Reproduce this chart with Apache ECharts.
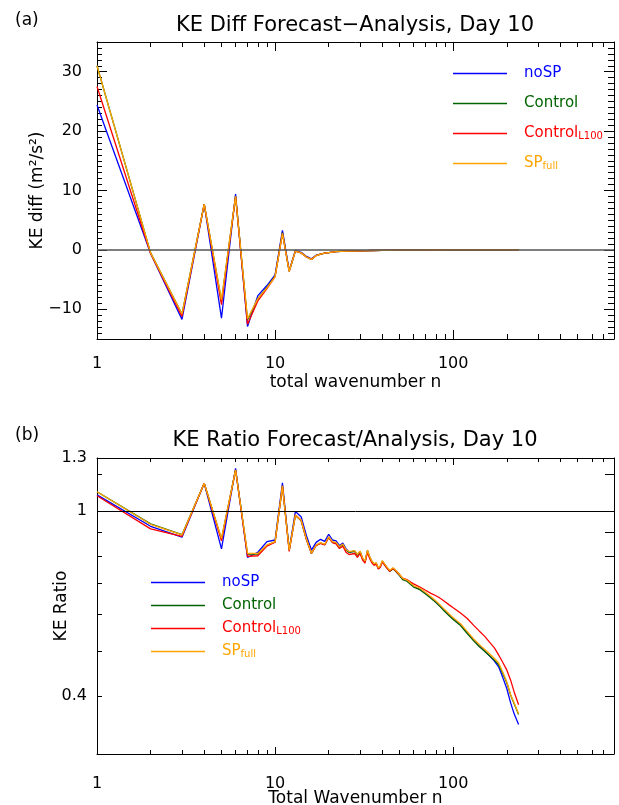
<!DOCTYPE html>
<html>
<head>
<meta charset="utf-8">
<script src="https://cdn.jsdelivr.net/npm/echarts@6.0.0/dist/echarts.min.js"></script>
<style>
  html, body { margin: 0; padding: 0; background: #fff; }
  #chart { width: 619px; height: 805px; }
</style>
</head>
<body>
<div id="chart"></div>
<script>
// ---- data ----
var seriesNames = ['noSP', 'Control', 'ControlL100', 'SPfull'];
var seriesColors = ['#0000ff', '#006400', '#ff0000', '#ffa500'];

// (a) KE diff, m2/s2
var nTop = [1, 2, 3, 4, 5, 6, 7, 8, 9, 10, 11, 12, 13, 14, 15, 16, 17, 18, 19, 20,
  22, 25, 30, 35, 40, 50, 60, 80, 100, 130, 160, 200, 233];
var diffNoSP = [24.4, -0.6, -11.7, 7.7, -11.5, 9.4, -12.9, -7.7, -6.0, -4.2, 3.3, -3.5, -0.1, -0.4, -1.1, -1.5, -0.9, -0.7, -0.55, -0.45,
  -0.3, -0.22, -0.15, -0.1, -0.08, -0.05, -0.03, -0.02, -0.01, -0.01, 0, 0, 0];
var diffControl = [31.0, -0.5, -10.8, 7.7, -8.6, 9.0, -11.8, -8.2, -6.3, -4.4, 2.9, -3.6, -0.2, -0.5, -1.2, -1.6, -0.95, -0.7, -0.55, -0.45,
  -0.3, -0.22, -0.15, -0.1, -0.08, -0.05, -0.03, -0.02, -0.01, -0.01, 0, 0, 0];
var diffL100 = [27.5, -0.6, -11.2, 7.7, -9.2, 9.0, -12.5, -8.6, -6.5, -4.5, 2.8, -3.6, -0.2, -0.5, -1.2, -1.6, -0.95, -0.7, -0.55, -0.45,
  -0.3, -0.22, -0.15, -0.1, -0.08, -0.05, -0.03, -0.02, -0.01, -0.01, 0, 0, 0];
var diffSPfull = [31.0, -0.5, -10.8, 7.7, -8.4, 9.0, -11.6, -8.2, -6.4, -4.5, 2.8, -3.6, -0.2, -0.5, -1.2, -1.6, -0.95, -0.7, -0.55, -0.45,
  -0.3, -0.22, -0.15, -0.1, -0.08, -0.05, -0.03, -0.02, -0.01, -0.01, 0, 0, 0];

// (b) KE ratio
var nBot = [1, 2, 3, 4, 5, 6, 7, 8, 9, 10, 11, 12, 13, 14, 15, 16, 17, 18, 19, 20,
  21, 22, 23, 24, 25, 26, 27, 28, 29, 30, 31, 32, 33, 34, 35, 36, 37, 38, 39, 40,
  42, 44, 46, 48, 50, 52, 55, 58, 60,
  65, 70, 75, 80, 85, 90, 95, 100,
  110, 120, 130, 140, 150, 160, 170, 180, 190, 200, 210, 220, 233];
var ratioNoSP = [1.083, 0.927, 0.878, 1.147, 0.829, 1.235, 0.794, 0.815, 0.859, 0.866,
  1.15, 0.826, 0.997, 0.972, 0.885, 0.824, 0.856, 0.869, 0.86, 0.891,
  0.866, 0.862, 0.842, 0.853, 0.83, 0.816, 0.818, 0.82, 0.804, 0.818,
  0.791, 0.778, 0.822, 0.795, 0.778, 0.768, 0.772, 0.753, 0.76, 0.78,
  0.76, 0.743, 0.753, 0.741, 0.728, 0.714, 0.708, 0.696, 0.688,
  0.679, 0.665, 0.651, 0.637, 0.623, 0.609, 0.597, 0.586,
  0.569, 0.547, 0.528, 0.513, 0.5, 0.488, 0.476, 0.462, 0.438, 0.415, 0.387, 0.366, 0.347];
var ratioControl = [1.10, 0.938, 0.889, 1.147, 0.87, 1.225, 0.808, 0.808, 0.843, 0.858,
  1.13, 0.824, 0.978, 0.954, 0.868, 0.81, 0.843, 0.853, 0.846, 0.878,
  0.856, 0.853, 0.835, 0.846, 0.823, 0.815, 0.817, 0.819, 0.803, 0.817,
  0.79, 0.777, 0.821, 0.794, 0.777, 0.767, 0.771, 0.752, 0.759, 0.779,
  0.758, 0.741, 0.751, 0.739, 0.726, 0.712, 0.706, 0.694, 0.686,
  0.677, 0.663, 0.649, 0.635, 0.621, 0.607, 0.595, 0.584,
  0.567, 0.545, 0.526, 0.511, 0.499, 0.488, 0.478, 0.467, 0.447, 0.427, 0.402, 0.385, 0.365];
var ratioL100 = [1.078, 0.915, 0.882, 1.147, 0.862, 1.225, 0.799, 0.801, 0.84, 0.857,
  1.132, 0.818, 0.98, 0.955, 0.868, 0.81, 0.843, 0.852, 0.845, 0.877,
  0.855, 0.85, 0.83, 0.84, 0.815, 0.806, 0.808, 0.81, 0.795, 0.81,
  0.784, 0.772, 0.815, 0.789, 0.773, 0.764, 0.768, 0.75, 0.757, 0.777,
  0.757, 0.742, 0.752, 0.741, 0.729, 0.717, 0.712, 0.702, 0.697,
  0.686, 0.675, 0.665, 0.657, 0.648, 0.638, 0.628, 0.619,
  0.603, 0.587, 0.568, 0.552, 0.538, 0.522, 0.508, 0.49, 0.472, 0.455, 0.433, 0.408, 0.383];
var ratioSPfull = [1.10, 0.936, 0.888, 1.147, 0.873, 1.225, 0.811, 0.81, 0.845, 0.859,
  1.132, 0.824, 0.98, 0.956, 0.87, 0.811, 0.845, 0.855, 0.848, 0.88,
  0.859, 0.856, 0.838, 0.849, 0.826, 0.818, 0.82, 0.822, 0.806, 0.82,
  0.793, 0.78, 0.824, 0.797, 0.78, 0.77, 0.774, 0.755, 0.762, 0.782,
  0.762, 0.745, 0.755, 0.743, 0.73, 0.716, 0.71, 0.698, 0.69,
  0.682, 0.668, 0.654, 0.64, 0.626, 0.612, 0.6, 0.589,
  0.572, 0.55, 0.531, 0.516, 0.504, 0.493, 0.482, 0.471, 0.45, 0.429, 0.403, 0.386, 0.366];

// ticks / labels
var xLabels = [1, 10, 100];
var xMinor = [2, 3, 4, 5, 6, 7, 8, 9, 20, 30, 40, 50, 60, 70, 80, 90, 200, 300, 400, 500, 600, 700];
var yTopLabels = [-10, 0, 10, 20, 30];
var yBotLabels = [0.4, 1, 1.3];
var yBotMinor = [0.5, 0.6, 0.7, 0.8, 0.9, 1.2];

var FONT = 'DejaVu Sans';
var yTopMinor = [];
for (var v = -15; v <= 35; v++) { if (v % 10 !== 0) yTopMinor.push(v); }

function pairs(xs, ys) {
  return xs.map(function (x, i) { return [x, ys[i]]; });
}

function axis(type, grid, pos, min, max, ticks, len, extra) {
  var a = {
    type: type, gridIndex: grid, position: pos, min: min, max: max,
    axisLine: { show: true, onZero: false, lineStyle: { color: '#000', width: 1 } },
    axisTick: { show: true, inside: true, length: len, customValues: ticks, lineStyle: { color: '#000', width: 1 } },
    axisLabel: { show: false },
    splitLine: { show: false },
    minorTick: { show: false },
    silent: true
  };
  if (type === 'log') a.logBase = 10;
  return Object.assign(a, extra || {});
}

function labelStyle(values, margin) {
  return {
    show: true, customValues: values, margin: margin,
    fontFamily: FONT, fontSize: 16, color: '#000',
    formatter: function (v) { return String(v).replace('-', '\u2212'); }
  };
}

var nameStyle = { fontFamily: FONT, fontSize: 17, color: '#000' };

var grids = [
  { left: 97, top: 42, width: 517, height: 297, outerBoundsMode: 'none' },
  { left: 97, top: 458, width: 517, height: 296, outerBoundsMode: 'none' }
];

var xAxes = [
  axis('log', 0, 'bottom', 1, 800, xLabels, 9, {
    axisLabel: labelStyle(xLabels, 17),
    name: 'total wavenumber n', nameLocation: 'middle', nameGap: 35, nameMoveOverlap: false, nameTextStyle: nameStyle
  }),
  axis('log', 0, 'bottom', 1, 800, xMinor, 5, { axisLine: { show: false, onZero: false } }),
  axis('log', 0, 'top', 1, 800, xLabels, 9),
  axis('log', 0, 'top', 1, 800, xMinor, 5, { axisLine: { show: false, onZero: false } }),
  axis('log', 1, 'bottom', 1, 800, xLabels, 7, {
    axisLabel: labelStyle(xLabels, 22),
    name: 'Total Wavenumber n', nameLocation: 'middle', nameGap: 36, nameMoveOverlap: false, nameTextStyle: nameStyle
  }),
  axis('log', 1, 'bottom', 1, 800, xMinor, 4, { axisLine: { show: false, onZero: false } }),
  axis('log', 1, 'top', 1, 800, xLabels, 7),
  axis('log', 1, 'top', 1, 800, xMinor, 4, { axisLine: { show: false, onZero: false } })
];

var yAxes = [
  axis('value', 0, 'left', -15, 35, yTopLabels, 10, {
    axisLabel: labelStyle(yTopLabels, 15),
    name: 'KE diff (m\u00b2/s\u00b2)', nameLocation: 'middle', nameGap: 51, nameMoveOverlap: false, nameTextStyle: nameStyle
  }),
  axis('value', 0, 'left', -15, 35, yTopMinor, 5, { axisLine: { show: false, onZero: false } }),
  axis('value', 0, 'right', -15, 35, yTopLabels, 10),
  axis('value', 0, 'right', -15, 35, yTopMinor, 6, { axisLine: { show: false, onZero: false } }),
  axis('log', 1, 'left', 0.3, 1.3, yBotLabels, 5, {
    axisLabel: labelStyle(yBotLabels, 10),
    name: 'KE Ratio', nameLocation: 'middle', nameGap: 27, nameMoveOverlap: false, nameTextStyle: nameStyle
  }),
  axis('log', 1, 'left', 0.3, 1.3, yBotMinor, 5, { axisLine: { show: false, onZero: false } }),
  axis('log', 1, 'right', 0.3, 1.3, yBotLabels, 9),
  axis('log', 1, 'right', 0.3, 1.3, yBotMinor, 9, { axisLine: { show: false, onZero: false } })
];

var topData = [diffNoSP, diffControl, diffL100, diffSPfull];
var botData = [ratioNoSP, ratioControl, ratioL100, ratioSPfull];

var series = [];
seriesNames.forEach(function (name, i) {
  var s = {
    name: name, type: 'line', xAxisIndex: 0, yAxisIndex: 0,
    data: pairs(nTop, topData[i]),
    symbol: 'none', showSymbol: false, silent: true,
    lineStyle: { color: seriesColors[i], width: 1.3 },
    itemStyle: { color: seriesColors[i] }
  };
  if (i === 0) {
    s.markLine = {
      silent: true, symbol: 'none', label: { show: false },
      lineStyle: { color: '#555', width: 1.5, type: 'solid' },
      data: [{ yAxis: 0 }]
    };
  }
  series.push(s);
});
seriesNames.forEach(function (name, i) {
  var s = {
    name: name, type: 'line', xAxisIndex: 4, yAxisIndex: 4,
    data: pairs(nBot, botData[i]),
    symbol: 'none', showSymbol: false, silent: true,
    lineStyle: { color: seriesColors[i], width: 1.3 },
    itemStyle: { color: seriesColors[i] }
  };
  if (i === 0) {
    s.markLine = {
      silent: true, symbol: 'none', label: { show: false },
      lineStyle: { color: '#000', width: 1, type: 'solid' },
      data: [{ yAxis: 1 }]
    };
  }
  series.push(s);
});

// every row carries a subscript slot so that all rows get the same height
var legendLabels = {
  noSP: '{gap|}{b|noSP}{bs| }',
  Control: '{gap|}{g|Control}{gs| }',
  ControlL100: '{gap|}{r|Control}{rs|L100}',
  SPfull: '{gap|}{o|SP}{os|full}'
};
function main(c) { return { color: c, fontSize: 15, fontFamily: FONT }; }
function sub(c) { return { color: c, fontSize: 10, fontFamily: FONT, lineHeight: 10, verticalAlign: 'bottom' }; }
var rich = {
  gap: { width: 12 },
  b: main('#0000ff'), bs: sub('#0000ff'),
  g: main('#006400'), gs: sub('#006400'),
  r: main('#ff0000'), rs: sub('#ff0000'),
  o: main('#ffa500'), os: sub('#ffa500')
};
function legend(left, top, gap) {
  return {
    data: seriesNames, orient: 'vertical', left: left, top: top, padding: 0,
    icon: 'rect', itemWidth: 54, itemHeight: 1.5, itemGap: gap, selectedMode: false,
    formatter: function (name) { return legendLabels[name]; },
    textStyle: { rich: rich, fontFamily: FONT, fontSize: 15 }
  };
}

var titleStyle = { fontFamily: FONT, fontSize: 21, fontWeight: 'normal', color: '#000' };
var tagStyle = { fontFamily: FONT, fontSize: 17, fontWeight: 'normal', color: '#000' };

var option = {
  animation: false,
  backgroundColor: '#fff',
  title: [
    { text: 'KE Diff Forecast\u2212Analysis, Day 10', left: 355, top: 15, textAlign: 'center', padding: 0, textStyle: titleStyle },
    { text: '(a)', left: 15, top: 12, padding: 0, textStyle: tagStyle },
    { text: 'KE Ratio Forecast/Analysis, Day 10', left: 355, top: 430, textAlign: 'center', padding: 0, textStyle: titleStyle },
    { text: '(b)', left: 15, top: 427, padding: 0, textStyle: tagStyle }
  ],
  legend: [legend(453, 66, 15), legend(151, 575, 8)],
  grid: grids,
  xAxis: xAxes,
  yAxis: yAxes,
  series: series
};

var chart = echarts.init(document.getElementById('chart'), null, { renderer: 'canvas' });
chart.setOption(option);
</script>
</body>
</html>
